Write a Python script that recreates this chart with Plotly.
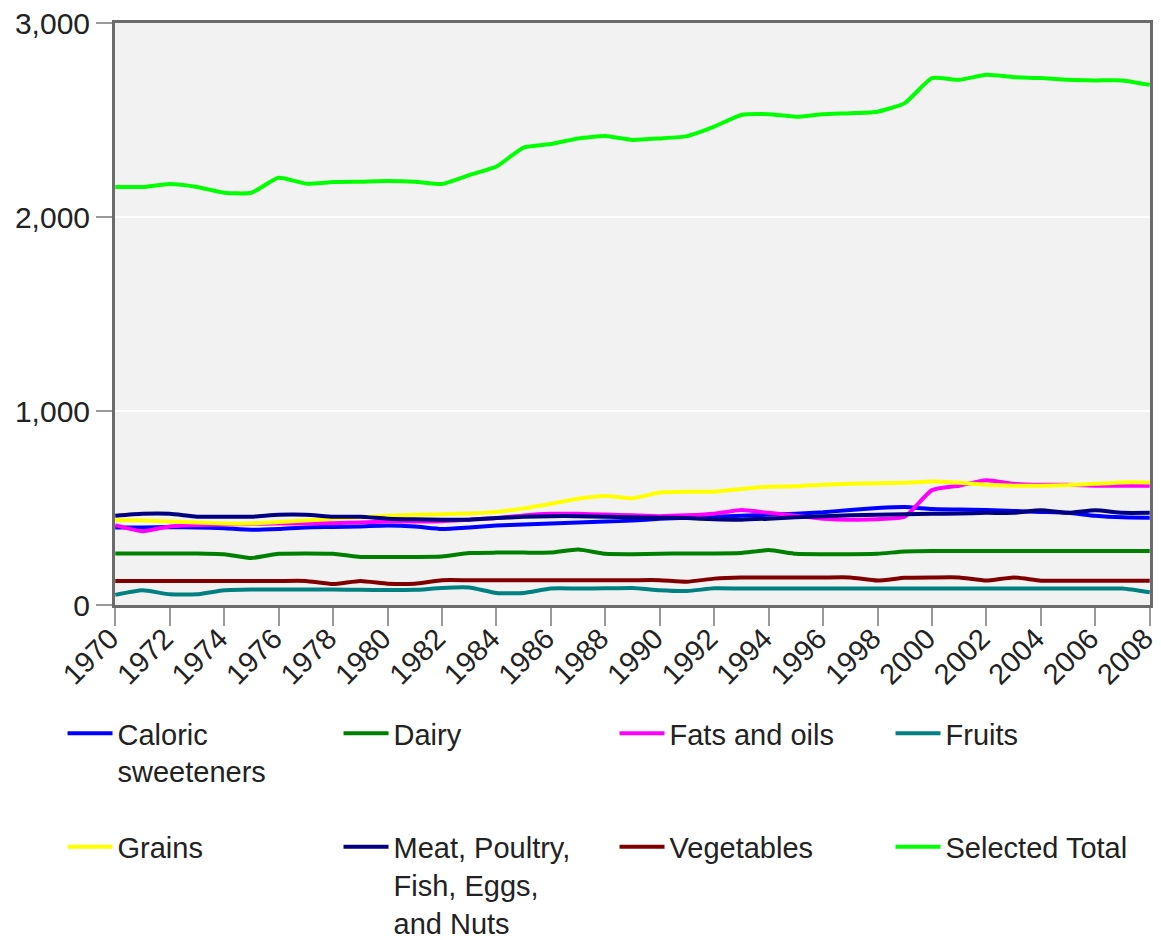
import plotly.graph_objects as go

# years on the x axis
years = list(range(1970, 2009))
year_ticks = list(range(1970, 2009, 2))

# per-capita calories by food group
caloric_sweeteners = [400, 400, 402, 400, 395, 388, 392, 400, 402, 405,
                      410, 405, 392, 400, 410, 415, 420, 425, 430, 435,
                      445, 450, 455, 460, 465, 470, 478, 490, 500, 505,
                      495, 492, 490, 485, 480, 475, 460, 452, 450]
dairy = [266, 266, 266, 266, 262, 242, 264, 266, 264, 248,
         248, 248, 250, 268, 270, 270, 270, 286, 264, 262,
         264, 266, 266, 268, 283, 264, 262, 262, 264, 276,
         278, 278, 278, 278, 278, 278, 278, 278, 278]
fats_and_oils = [412, 380, 405, 412, 415, 418, 420, 420, 422, 425,
                 430, 430, 432, 440, 448, 462, 470, 470, 466, 462,
                 458, 462, 470, 490, 475, 460, 445, 440, 442, 455,
                 592, 615, 643, 625, 620, 620, 615, 615, 615]
fruits = [52, 76, 55, 55, 76, 80, 80, 80, 80, 78,
          77, 78, 88, 90, 62, 62, 85, 85, 86, 88,
          76, 72, 86, 85, 85, 85, 85, 85, 85, 85,
          85, 85, 85, 85, 85, 85, 85, 85, 66]
grains = [438, 435, 430, 425, 420, 420, 428, 435, 445, 452,
          460, 465, 468, 472, 480, 498, 522, 548, 562, 550,
          580, 584, 584, 598, 610, 612, 620, 625, 628, 630,
          636, 630, 620, 615, 615, 618, 625, 632, 632]
meat = [460, 470, 470, 455, 455, 455, 465, 465, 455, 455,
        445, 442, 440, 440, 448, 455, 458, 458, 455, 452,
        450, 448, 442, 440, 445, 452, 458, 462, 465, 468,
        470, 472, 475, 475, 488, 475, 488, 475, 475]
vegetables = [124, 124, 124, 124, 124, 124, 124, 124, 108, 124,
              110, 110, 128, 128, 128, 128, 128, 128, 128, 128,
              128, 120, 136, 142, 142, 142, 142, 142, 126, 140,
              142, 142, 126, 142, 125, 125, 125, 125, 125]
selected_total = [2155, 2155, 2170, 2155, 2125, 2125, 2202, 2172, 2180, 2182,
                  2185, 2182, 2170, 2216, 2260, 2358, 2376, 2405, 2417, 2397,
                  2405, 2417, 2466, 2526, 2530, 2517, 2530, 2535, 2543, 2587,
                  2716, 2707, 2733, 2721, 2716, 2707, 2704, 2704, 2681]

series = [
    ("Caloric<br>sweeteners", caloric_sweeteners, "#0000ff", "legend"),
    ("Dairy", dairy, "#008000", "legend"),
    ("Fats and oils", fats_and_oils, "#ff00ff", "legend"),
    ("Fruits", fruits, "#008080", "legend"),
    ("Grains", grains, "#ffff00", "legend2"),
    ("Meat, Poultry,<br>Fish, Eggs,<br>and Nuts", meat, "#000080", "legend2"),
    ("Vegetables", vegetables, "#800000", "legend2"),
    ("Selected Total", selected_total, "#00ff00", "legend2"),
]

fig = go.Figure()
for name, vals, color, leg in series:
    fig.add_trace(go.Scatter(
        x=years, y=vals, name=name, mode="lines",
        line=dict(color=color, width=4, shape="spline", smoothing=0.5),
        legend=leg,
    ))

font = dict(family="Liberation Sans, Arial, sans-serif", size=30, color="#222222")
xtick_font = dict(font, size=29)
legend_font = dict(font, size=29)
legend_style = dict(
    orientation="h", xanchor="left", yanchor="top",
    entrywidth=216, entrywidthmode="pixels", itemwidth=45,
    valign="top", font=legend_font, bgcolor="rgba(0,0,0,0)",
)

# the page body adds an 8px offset, so the figure is 8px smaller each way
fig.update_layout(
    width=1153, height=932,
    margin=dict(l=107, r=11, t=15, b=335, autoexpand=False),
    paper_bgcolor="white", plot_bgcolor="#f2f2f2",
    font=font,
    showlegend=True,
    legend=dict(x=-0.0507, y=-0.177, **legend_style),
    legend2=dict(x=-0.0507, y=-0.372, **legend_style),
)

fig.update_xaxes(
    range=[1969.99, 2008.01], tickvals=year_ticks,
    tickangle=-45, ticks="outside", ticklen=18, tickwidth=2, tickcolor="#999999",
    ticklabelstandoff=-16, ticklabelshift=-5, ticklabeloverflow="allow",
    showline=True, linewidth=3, linecolor="#6b6b6b", mirror=True,
    showgrid=False, zeroline=False, tickfont=xtick_font,
)
fig.update_yaxes(
    range=[0, 3000], tickvals=[0, 1000, 2000, 3000], tickformat=",d",
    ticks="outside", ticklen=16, tickwidth=2, tickcolor="#999999",
    ticklabeloverflow="allow",
    showline=True, linewidth=3, linecolor="#6b6b6b", mirror=True,
    showgrid=True, gridcolor="white", gridwidth=2, zeroline=False, tickfont=font,
)

fig.write_html("out.html")
